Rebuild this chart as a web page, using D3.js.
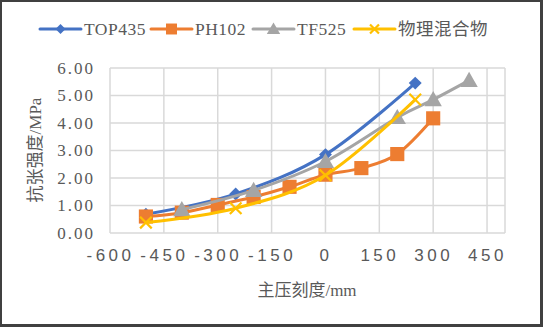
<!DOCTYPE html>
<html>
<head>
<meta charset="utf-8">
<script src="https://cdn.jsdelivr.net/npm/d3@7"></script>
<style>
html,body{margin:0;padding:0;background:#fff;}
svg{display:block;}
text{font-family:"Liberation Serif","DejaVu Serif","Noto Sans CJK SC",serif;fill:#595959;}
</style>
</head>
<body>
<svg id="chart" width="543" height="327"></svg>
<script>
// ---- data ----
const seriesNames = ["TOP435", "PH102", "TF525", "物理混合物"];
const top435X = [-500, -250, 0, 250];
const top435Y = [0.68, 1.42, 2.85, 5.45];
const ph102X = [-500, -400, -300, -200, -100, 0, 100, 200, 300];
const ph102Y = [0.6, 0.74, 1.02, 1.31, 1.68, 2.12, 2.36, 2.87, 4.17];
const tf525X = [-400, -200, 0, 200, 300, 400];
const tf525Y = [0.85, 1.55, 2.6, 4.2, 4.85, 5.55];
const mixX = [-500, -250, 0, 250];
const mixY = [0.38, 0.9, 2.1, 4.85];
const xTicks = [-600, -450, -300, -150, 0, 150, 300, 450];
const yTicks = [0, 1, 2, 3, 4, 5, 6];
const xTitle = "主压刻度/mm";
const yTitle = "抗张强度/MPa";
const colors = ["#4472C4", "#ED7D31", "#A5A5A5", "#FFC000"];
const markers = ["diamond", "square", "triangle", "x"];

const series = [
  {name: seriesNames[0], xs: top435X, ys: top435Y},
  {name: seriesNames[1], xs: ph102X, ys: ph102Y},
  {name: seriesNames[2], xs: tf525X, ys: tf525Y},
  {name: seriesNames[3], xs: mixX, ys: mixY}
].map((s, i) => ({...s, color: colors[i], marker: markers[i],
  pts: s.xs.map((x, j) => [x, s.ys[j]])}));

const svg = d3.select("#chart");
const W = 543, H = 327;
const plot = {l: 110, r: 505, t: 68, b: 233};
const serifFont = '"Liberation Serif","DejaVu Serif","Noto Sans CJK SC",serif';

const x = d3.scaleLinear().domain([-600, 500]).range([plot.l, plot.r]);
const y = d3.scaleLinear().domain([0, 6]).range([plot.b, plot.t]);

svg.append("rect").attr("x", 0).attr("y", 0).attr("width", W).attr("height", H).attr("fill", "#fff");

// gridlines
const g = svg.append("g");
g.selectAll("line.h").data(yTicks).join("line")
  .attr("x1", plot.l).attr("x2", plot.r)
  .attr("y1", d => y(d)).attr("y2", d => y(d))
  .attr("stroke", "#d9d9d9").attr("stroke-width", 1.5);
g.selectAll("line.v").data(xTicks).join("line")
  .attr("y1", plot.t).attr("y2", plot.b)
  .attr("x1", d => x(d)).attr("x2", d => x(d))
  .attr("stroke", "#d9d9d9").attr("stroke-width", 1.5);
g.append("line").attr("x1", plot.r).attr("x2", plot.r).attr("y1", plot.t).attr("y2", plot.b)
  .attr("stroke", "#d9d9d9").attr("stroke-width", 1.5);

// axes
const fmtY = d3.format(".2f");
const yAxis = svg.append("g").attr("transform", `translate(${plot.l},0)`)
  .call(d3.axisLeft(y).tickValues(yTicks).tickFormat(fmtY).tickSize(0).tickPadding(15));
yAxis.select(".domain").remove();
yAxis.selectAll("text").attr("font-size", 17).attr("letter-spacing", 2)
  .style("font-family", serifFont).attr("fill", "#595959");

const xAxis = svg.append("g").attr("transform", `translate(0,${plot.b})`)
  .call(d3.axisBottom(x).tickValues(xTicks).tickFormat(d => d).tickSize(0).tickPadding(16));
xAxis.select(".domain").remove();
xAxis.selectAll("text").attr("font-size", 17).attr("letter-spacing", 3.5)
  .style("font-family", '"Liberation Sans","DejaVu Sans",sans-serif').attr("fill", "#595959");

// axis titles
svg.append("text").attr("x", 307).attr("y", 296).attr("text-anchor", "middle")
  .attr("font-size", 17).text(xTitle);
svg.append("text").attr("transform", "translate(41,150) rotate(-90)").attr("text-anchor", "middle")
  .attr("font-size", 17).text(yTitle);

// lines
const line = d3.line().x(d => x(d[0])).y(d => y(d[1])).curve(d3.curveCardinal.tension(0));
const sym = {
  diamond: d3.symbolSquare, square: d3.symbolSquare,
  triangle: d3.symbolTriangle, x: d3.symbolX
};
const sizes = {diamond: 84, square: 200, triangle: 130, x: 90};

function drawMarker(sel, m, color, scale) {
  const p = sel.append("path")
    .attr("d", d3.symbol().type(sym[m]).size(sizes[m] * scale)());
  if (m === "x") p.attr("fill", "none").attr("stroke", color).attr("stroke-width", 2.2);
  else p.attr("fill", color);
  if (m === "triangle") p.attr("transform", `translate(0,${1.5 * Math.sqrt(scale)})`);
  if (m === "diamond") p.attr("transform", "rotate(45)");
}

series.forEach(s => {
  const gs = svg.append("g");
  gs.append("path").attr("d", line(s.pts)).attr("fill", "none")
    .attr("stroke", s.color).attr("stroke-width", 3).attr("stroke-linecap", "round");
  s.pts.forEach(p => {
    const mg = gs.append("g").attr("transform", `translate(${x(p[0])},${y(p[1])})`);
    drawMarker(mg, s.marker, s.color, 1);
  });
});

// legend
const legendX = [40, 151, 253, 354];
const lg = svg.append("g");
series.forEach((s, i) => {
  const gx = legendX[i], gy = 29;
  lg.append("line").attr("x1", gx).attr("x2", gx + 41).attr("y1", gy).attr("y2", gy)
    .attr("stroke", s.color).attr("stroke-width", 3).attr("stroke-linecap", "round");
  const mg = lg.append("g").attr("transform", `translate(${gx + 20.5},${gy})`);
  drawMarker(mg, s.marker, s.color, 0.6);
  lg.append("text").attr("x", gx + 44).attr("y", gy + 6).attr("font-size", 17.5)
    .attr("letter-spacing", 0.5).style("font-family", serifFont).text(s.name);
});

// outer border
svg.append("rect").attr("x", 1).attr("y", 1).attr("width", W - 3).attr("height", H - 3)
  .attr("fill", "none").attr("stroke", "#404040").attr("stroke-width", 2);
svg.append("rect").attr("x", W - 3).attr("y", 0).attr("width", 3).attr("height", H).attr("fill", "#404040");
svg.append("rect").attr("x", 0).attr("y", H - 3).attr("width", W).attr("height", 3).attr("fill", "#404040");
</script>
</body>
</html>
